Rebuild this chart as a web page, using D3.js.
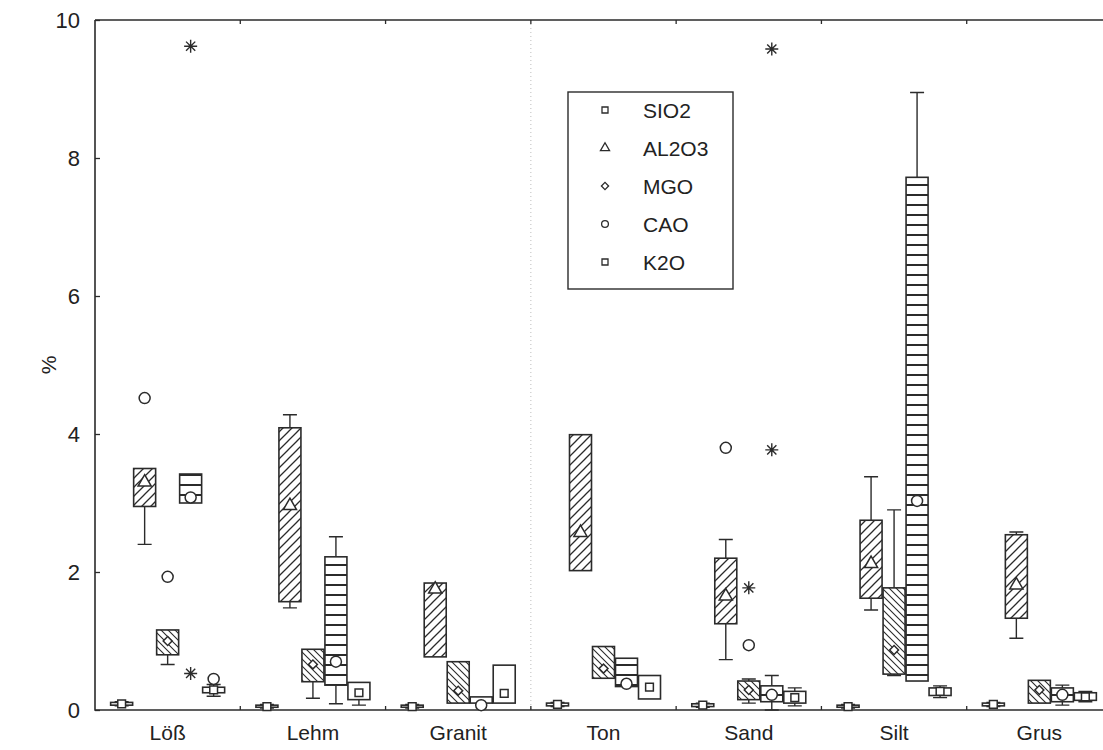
<!DOCTYPE html>
<html>
<head>
<meta charset="utf-8">
<script src="https://cdn.jsdelivr.net/npm/d3@7"></script>
<style>
  html, body { margin: 0; padding: 0; background: #fff; }
  svg { display: block; }
  text { font-family: "Liberation Sans", Arial, sans-serif; fill: #222; }
</style>
</head>
<body>
<svg id="chart" width="1103" height="750"></svg>
<script>
// Rock types (x groups) and oxides (one box per oxide in each group)
const categories = ["Löß", "Lehm", "Granit", "Ton", "Sand", "Silt", "Grus"];
const series = ["SIO2", "AL2O3", "MGO", "CAO", "K2O"];
const yTicks = [0, 2, 4, 6, 8, 10];

// Per oxide and rock type: [whisker low, box low, centre point, box high, whisker high] in %
const sio2 = [
  [0.06, 0.07, 0.09, 0.11, 0.12],
  [0.03, 0.04, 0.05, 0.07, 0.08],
  [0.03, 0.04, 0.05, 0.07, 0.08],
  [0.05, 0.06, 0.08, 0.10, 0.11],
  [0.04, 0.05, 0.07, 0.09, 0.10],
  [0.03, 0.04, 0.05, 0.07, 0.08],
  [0.05, 0.06, 0.08, 0.10, 0.11]
];
const al2o3 = [
  [2.40, 2.95, 3.30, 3.50, 3.50],
  [1.48, 1.57, 2.96, 4.09, 4.28],
  [0.77, 0.77, 1.75, 1.84, 1.84],
  [2.02, 2.02, 2.57, 3.99, 3.99],
  [0.73, 1.25, 1.65, 2.20, 2.47],
  [1.45, 1.62, 2.12, 2.75, 3.38],
  [1.04, 1.33, 1.81, 2.54, 2.58]
];
const mgo = [
  [0.66, 0.80, 1.00, 1.16, 1.16],
  [0.17, 0.41, 0.66, 0.88, 0.88],
  [0.10, 0.10, 0.28, 0.70, 0.70],
  [0.46, 0.46, 0.60, 0.92, 0.92],
  [0.10, 0.15, 0.29, 0.42, 0.45],
  [0.50, 0.52, 0.87, 1.77, 2.90],
  [0.10, 0.10, 0.29, 0.43, 0.43]
];
const cao = [
  [3.00, 3.00, 3.08, 3.42, 3.42],
  [0.09, 0.36, 0.70, 2.22, 2.51],
  [0.10, 0.10, 0.07, 0.19, 0.19],
  [0.34, 0.34, 0.38, 0.75, 0.75],
  [0.00, 0.12, 0.22, 0.35, 0.50],
  [0.42, 0.42, 3.03, 7.72, 8.95],
  [0.07, 0.12, 0.22, 0.32, 0.36]
];
const k2o = [
  [0.20, 0.25, 0.29, 0.33, 0.37],
  [0.07, 0.15, 0.25, 0.40, 0.40],
  [0.10, 0.10, 0.24, 0.65, 0.65],
  [0.16, 0.16, 0.33, 0.50, 0.50],
  [0.06, 0.10, 0.18, 0.27, 0.32],
  [0.18, 0.21, 0.27, 0.32, 0.35],
  [0.12, 0.14, 0.19, 0.25, 0.27]
];
const boxValues = [sio2, al2o3, mgo, cao, k2o];

// Single points beyond the whiskers: [rock type, oxide, value]
const outliers = [
  ["Löß", "AL2O3", 4.52],
  ["Löß", "MGO", 1.93],
  ["Löß", "K2O", 0.45],
  ["Sand", "AL2O3", 3.80],
  ["Sand", "MGO", 0.94]
];
const extremes = [
  ["Löß", "CAO", 9.62],
  ["Löß", "CAO", 0.53],
  ["Sand", "CAO", 9.58],
  ["Sand", "CAO", 3.77],
  ["Sand", "MGO", 1.77]
];

const ink = "#2b2b2b";
const svg = d3.select("#chart");
const plot = { left: 95, right: 1112, top: 20, bottom: 710 };

const x = d3.scaleBand(categories, [plot.left, plot.right]);
const xs = d3.scaleBand(series, [-57.5, 57.5]);
const y = d3.scaleLinear([0, 10], [plot.bottom, plot.top]);
const cx = (c, s) => x(c) + x.bandwidth() / 2 + xs(s) + xs.bandwidth() / 2;
const boxW = xs.bandwidth() - 1;

// Fill patterns for the boxes
const defs = svg.append("defs");
const pA = defs.append("pattern").attr("id", "hatchA")
  .attr("patternUnits", "userSpaceOnUse").attr("width", 9).attr("height", 9);
pA.append("rect").attr("width", 9).attr("height", 9).attr("fill", "#fff");
pA.append("path").attr("d", "M-2,2 L2,-2 M0,9 L9,0 M7,11 L11,7")
  .attr("stroke", ink).attr("stroke-width", 1.3);
const pM = defs.append("pattern").attr("id", "hatchM")
  .attr("patternUnits", "userSpaceOnUse").attr("width", 7).attr("height", 7);
pM.append("rect").attr("width", 7).attr("height", 7).attr("fill", "#fff");
pM.append("path").attr("d", "M-2,5 L2,9 M0,0 L7,7 M5,-2 L9,2")
  .attr("stroke", ink).attr("stroke-width", 1.1);
const pC = defs.append("pattern").attr("id", "hlines")
  .attr("patternUnits", "userSpaceOnUse").attr("width", 10).attr("height", 10);
pC.append("rect").attr("width", 10).attr("height", 10).attr("fill", "#fff");
pC.append("line").attr("x1", 0).attr("x2", 10).attr("y1", 5).attr("y2", 5)
  .attr("stroke", ink).attr("stroke-width", 2);

const fills = {
  SIO2: "#fff",
  AL2O3: "url(#hatchA)",
  MGO: "url(#hatchM)",
  CAO: "url(#hlines)",
  K2O: "#fff"
};
// Marker shapes; the MGO diamond is a square turned by 45 degrees
const symbols = {
  SIO2: d3.symbolSquare,
  AL2O3: d3.symbolTriangle,
  MGO: d3.symbolSquare,
  CAO: d3.symbolCircle,
  K2O: d3.symbolSquare
};
const symTurn = { SIO2: 0, AL2O3: 0, MGO: 45, CAO: 0, K2O: 0 };
const symSize = { SIO2: 60, AL2O3: 75, MGO: 40, CAO: 95, K2O: 60 };

// Faint divider between the two halves of the groups
svg.append("line")
  .attr("x1", x(categories[3])).attr("x2", x(categories[3]))
  .attr("y1", plot.top).attr("y2", plot.bottom)
  .attr("stroke", "#bdbdbd").attr("stroke-width", 1).attr("stroke-dasharray", "1,3");

// Frame: left, bottom and top edges
svg.append("path")
  .attr("d", `M${plot.left},${plot.top} V${plot.bottom} H${plot.right} M${plot.left},${plot.top} H${plot.right}`)
  .attr("fill", "none").attr("stroke", ink).attr("stroke-width", 1.6);

// Y axis with inward ticks
const yAxis = svg.append("g").attr("transform", `translate(${plot.left},0)`)
  .call(d3.axisLeft(y).tickValues(yTicks).tickFormat(d3.format("d"))
    .tickSizeInner(-5).tickSizeOuter(0).tickPadding(15));
yAxis.select(".domain").remove();
yAxis.selectAll(".tick line").attr("stroke", ink).attr("stroke-width", 1.3);
yAxis.selectAll(".tick text").attr("font-size", 22).attr("fill", "#222")
  .attr("font-family", "'Liberation Sans', Arial, sans-serif");

// X axis: category names centred in each group, ticks on group boundaries
const xAxis = svg.append("g").attr("transform", `translate(0,${plot.bottom})`)
  .call(d3.axisBottom(x).tickSize(0).tickPadding(15));
xAxis.select(".domain").remove();
xAxis.selectAll(".tick text").attr("font-size", 21).attr("fill", "#222")
  .attr("font-family", "'Liberation Sans', Arial, sans-serif");
const bounds = categories.slice(1).map(c => x(c));
svg.append("g").selectAll("path").data(bounds).join("path")
  .attr("d", d => `M${d},${plot.bottom} v-4 M${d},${plot.top} v4`)
  .attr("stroke", ink).attr("stroke-width", 1.3);

// Y axis title
svg.append("text")
  .attr("transform", `translate(56,${(plot.top + plot.bottom) / 2}) rotate(-90)`)
  .attr("text-anchor", "middle").attr("font-size", 21).text("%");

// Boxes
const rows = [];
series.forEach((s, si) => {
  categories.forEach((c, ci) => {
    const [lo, q1, mid, q3, hi] = boxValues[si][ci];
    rows.push({ c, s, lo, q1, mid, q3, hi });
  });
});

const g = svg.append("g");
const capW = 14;
rows.forEach(d => {
  const xc = cx(d.c, d.s);
  if (d.hi > d.q3) {
    g.append("path")
      .attr("d", `M${xc},${y(d.q3)} V${y(d.hi)} M${xc - capW / 2},${y(d.hi)} H${xc + capW / 2}`)
      .attr("stroke", ink).attr("stroke-width", 1.4).attr("fill", "none");
  }
  if (d.lo < d.q1) {
    g.append("path")
      .attr("d", `M${xc},${y(d.q1)} V${y(d.lo)} M${xc - capW / 2},${y(d.lo)} H${xc + capW / 2}`)
      .attr("stroke", ink).attr("stroke-width", 1.4).attr("fill", "none");
  }
});
g.selectAll("rect.box").data(rows).join("rect").attr("class", "box")
  .attr("x", d => cx(d.c, d.s) - boxW / 2)
  .attr("width", boxW)
  .attr("y", d => y(d.q3))
  .attr("height", d => Math.max(1, y(d.q1) - y(d.q3)))
  .attr("fill", d => fills[d.s])
  .attr("stroke", ink).attr("stroke-width", 1.6);

// Centre markers
g.selectAll("path.mark").data(rows).join("path").attr("class", "mark")
  .attr("transform", d => `translate(${cx(d.c, d.s)},${y(d.mid)}) rotate(${symTurn[d.s]})`)
  .attr("d", d => d3.symbol(symbols[d.s], symSize[d.s])())
  .attr("fill", "#fff").attr("stroke", ink).attr("stroke-width", 1.5);

// Outliers (circles) and extremes (asterisks)
g.selectAll("circle.out").data(outliers).join("circle").attr("class", "out")
  .attr("cx", d => cx(d[0], d[1])).attr("cy", d => y(d[2])).attr("r", 5.5)
  .attr("fill", "#fff").attr("stroke", ink).attr("stroke-width", 1.5);
const star = r => {
  const a = r * Math.SQRT1_2;
  return `M0,${-r} V${r} M${-r},0 H${r} M${-a},${-a} L${a},${a} M${-a},${a} L${a},${-a}`;
};
g.selectAll("path.ext").data(extremes).join("path").attr("class", "ext")
  .attr("transform", d => `translate(${cx(d[0], d[1])},${y(d[2])})`)
  .attr("d", star(6.5))
  .attr("stroke", ink).attr("stroke-width", 1.4).attr("fill", "none");

// Legend
const leg = svg.append("g").attr("transform", "translate(568,92)");
leg.append("rect").attr("width", 165).attr("height", 197)
  .attr("fill", "#fff").attr("stroke", ink).attr("stroke-width", 1.4);
const ly = d3.scalePoint(series, [18, 170]);
const item = leg.selectAll("g.item").data(series).join("g").attr("class", "item")
  .attr("transform", s => `translate(0,${ly(s)})`);
item.append("path")
  .attr("transform", s => `translate(37,0) rotate(${symTurn[s]})`)
  .attr("d", s => d3.symbol(symbols[s], s === "MGO" ? 26 : 36)())
  .attr("fill", "#fff").attr("stroke", ink).attr("stroke-width", 1.3);
item.append("text").attr("x", 75).attr("dy", "0.36em")
  .attr("font-size", 21).text(s => s);
</script>
</body>
</html>
